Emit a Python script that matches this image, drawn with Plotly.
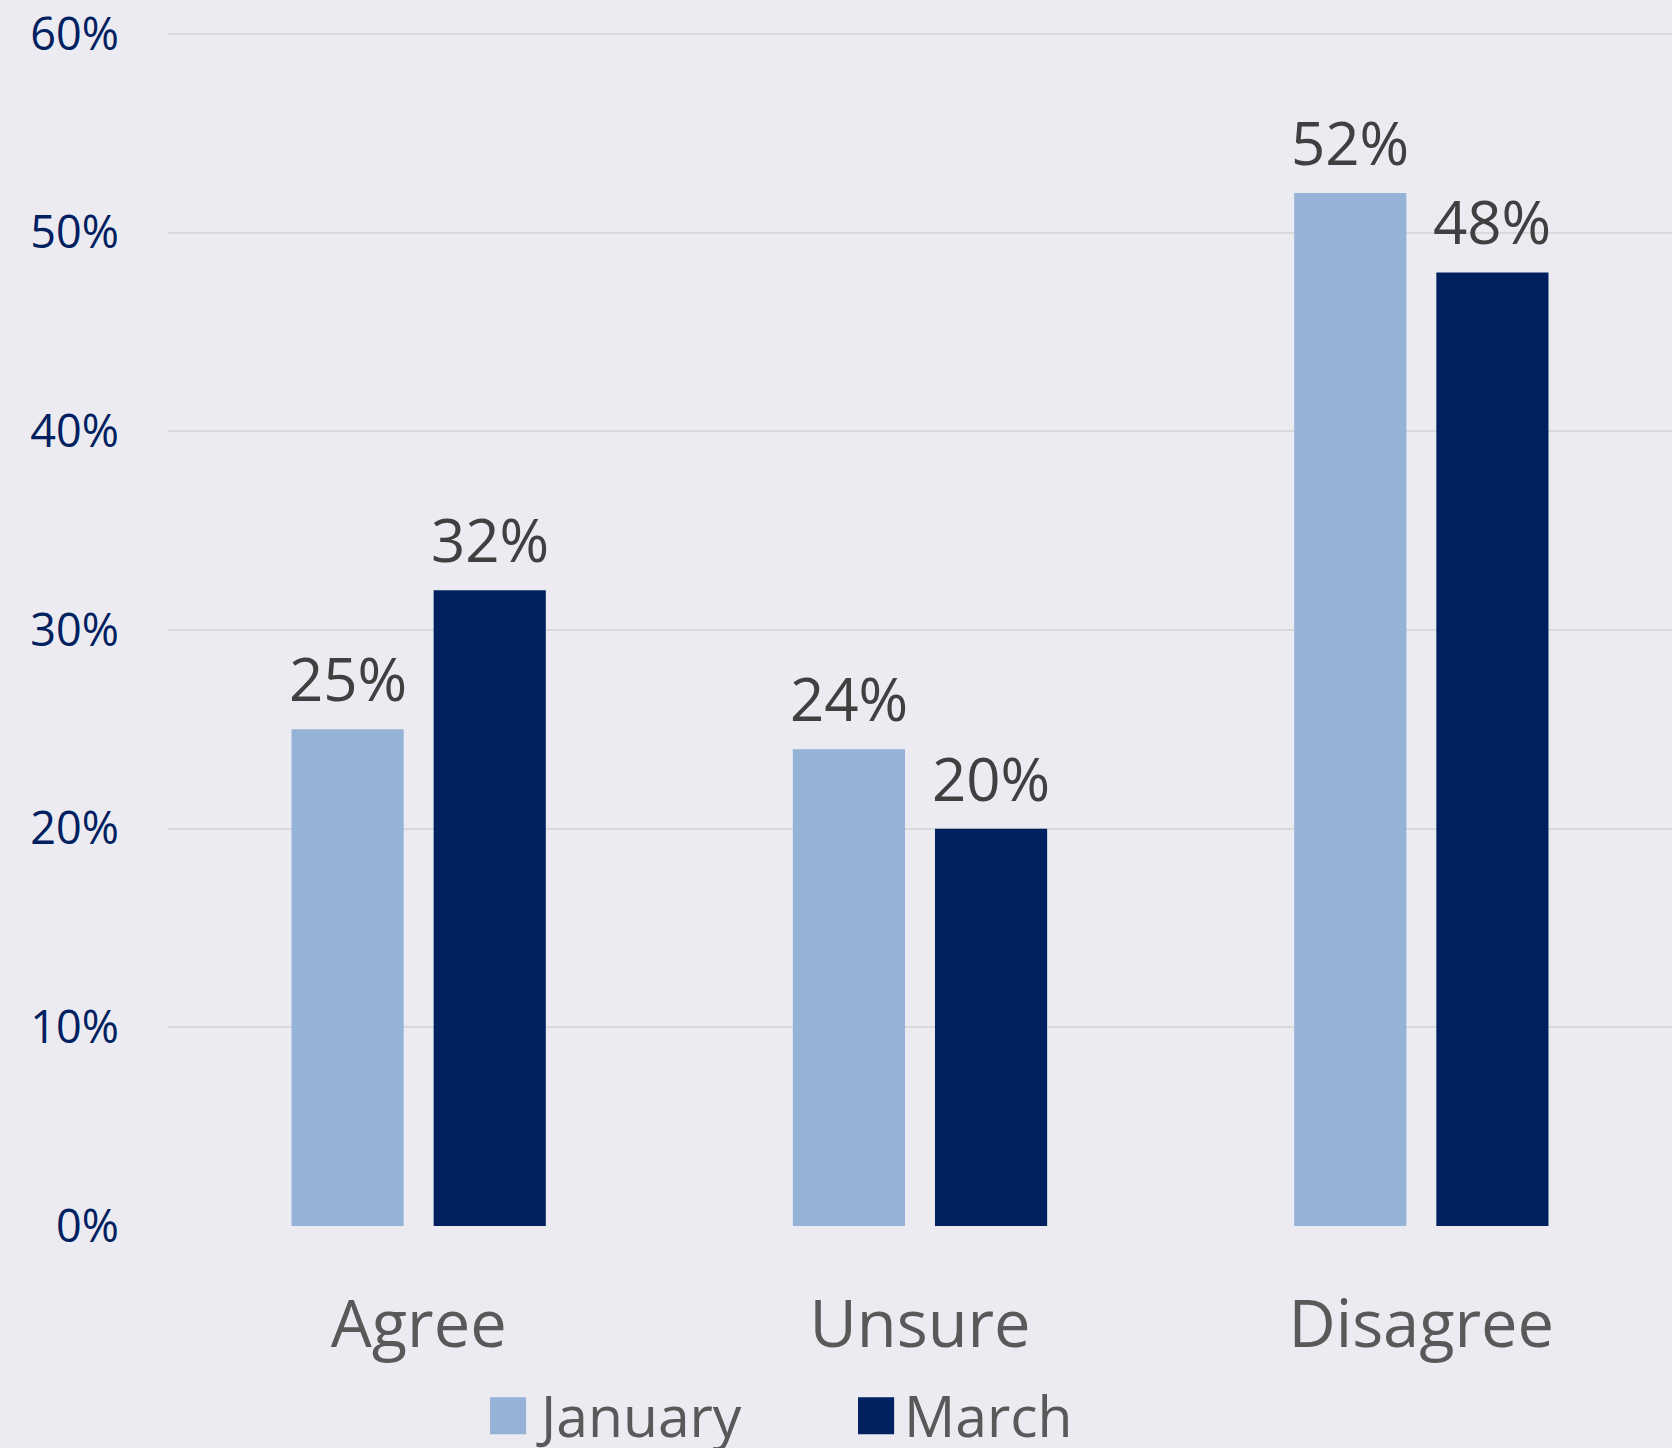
import plotly.graph_objects as go

categories = ["Agree", "Unsure", "Disagree"]
series_names = ["January", "March"]
january = [25, 24, 52]
march = [32, 20, 48]
y_ticks = [0, 10, 20, 30, 40, 50, 60]
y_tick_labels = ["0%", "10%", "20%", "30%", "40%", "50%", "60%"]

colors = ["#95B3D7", "#002060"]
BG = "#EBEBF1"
FONT = "Open Sans"
BARGAP = 0.433
BARGROUPGAP = 0.211

fig = go.Figure()
all_series = [january, march]
n_series = len(all_series)
slot = (1 - BARGAP) / n_series
for s, (name, vals, col) in enumerate(zip(series_names, all_series, colors)):
    fig.add_trace(go.Bar(
        x=categories, y=vals, name=name, marker=dict(color=col, line=dict(width=0)),
        showlegend=False,
    ))
    off = -(1 - BARGAP) / 2 + slot * (s + 0.5)
    for i, v in enumerate(vals):
        fig.add_annotation(x=i + off, y=v, xref="x", yref="y",
                           text=f"{v}%", showarrow=False,
                           xanchor="center", yanchor="bottom", yshift=8,
                           font=dict(family=FONT, size=60, color="#404040"))

fig.update_layout(
    width=1672, height=1448,
    paper_bgcolor=BG, plot_bgcolor=BG,
    margin=dict(l=168, r=0, t=32, b=222),
    barmode="group", bargap=BARGAP, bargroupgap=BARGROUPGAP,
    xaxis=dict(showgrid=False, showline=False, zeroline=False,
               tickfont=dict(family=FONT, size=65, color="#595959"),
               ticklabelstandoff=55),
    yaxis=dict(range=[0, 60.1], tickvals=y_ticks, ticktext=y_tick_labels,
               showgrid=True, gridcolor="#D9D9D9", gridwidth=2,
               zeroline=False, showline=False,
               tickfont=dict(family=FONT, size=45, color="#002060"),
               ticklabelstandoff=48),
    showlegend=False,
)

# Manual legend (large square symbols)
legend_x = [0.2141, 0.4588]
sq_w = 0.0240
for name, col, lx in zip(series_names, colors, legend_x):
    fig.add_shape(type="rect", xref="paper", yref="paper",
                  x0=lx, x1=lx + sq_w, y0=-0.1745, y1=-0.1435,
                  fillcolor=col, line=dict(width=0))
    fig.add_annotation(xref="paper", yref="paper", x=lx + sq_w + 0.0055, y=-0.1586,
                       text=name, showarrow=False, xanchor="left", yanchor="middle",
                       font=dict(family=FONT, size=57, color="#595959"))

fig.write_html("out.html", config={"displayModeBar": False},
               post_script="document.body.style.margin='0';document.body.style.overflow='hidden';")
